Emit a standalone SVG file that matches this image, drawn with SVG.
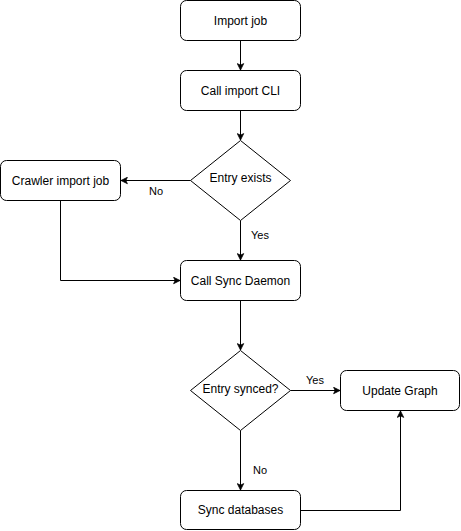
<svg xmlns="http://www.w3.org/2000/svg" width="461" height="531" viewBox="0 0 461 531">
<style>
.box{fill:#fff;stroke:#000;stroke-width:1}
.t{font-family:"Liberation Sans",Arial,sans-serif;font-size:12px;fill:#000;text-anchor:middle;dominant-baseline:central}
.lbl{font-family:"Liberation Sans",Arial,sans-serif;font-size:11px;fill:#000;text-anchor:middle;dominant-baseline:central}
.e{fill:none;stroke:#000;stroke-width:1;marker-end:url(#ah)}
</style>
<defs>
<marker id="ah" viewBox="0 0 10 10" refX="9" refY="5" markerWidth="8" markerHeight="8" markerUnits="userSpaceOnUse" orient="auto">
<path d="M1,1 L9,5 L1,9 L3,5 Z" fill="#000" stroke="#000" stroke-width="1"/>
</marker>
</defs>
<rect width="461" height="531" fill="#fff"/>
<g id="connectors">
<path class="e" d="M240.5,40.5 V70"/>
<path class="e" d="M240.5,110.5 V140"/>
<path class="e" d="M190.5,180.5 H121"/>
<path class="e" d="M240.5,220.5 V260"/>
<path class="e" d="M60.5,200.5 V280.5 H180"/>
<path class="e" d="M240.5,300.5 V350"/>
<path class="e" d="M290.5,390.5 H340"/>
<path class="e" d="M240.5,430.5 V490"/>
<path class="e" d="M300.5,510.5 H400.5 V411"/>
<text class="lbl" x="156" y="191">No</text>
<text class="lbl" x="260" y="235">Yes</text>
<text class="lbl" x="315" y="380">Yes</text>
<text class="lbl" x="260" y="470">No</text>
</g>
<g id="import-job"><rect class="box" x="180.5" y="0.5" width="120" height="40" rx="6"/><text class="t" x="240.5" y="20.5">Import job</text></g>
<g id="call-import-cli"><rect class="box" x="180.5" y="70.5" width="120" height="40" rx="6"/><text class="t" x="240.5" y="90.5">Call import CLI</text></g>
<g id="entry-exists"><path class="box" d="M240.5,140.5 L290.5,180.5 L240.5,220.5 L190.5,180.5 Z"/><text class="t" x="240.5" y="178">Entry exists</text></g>
<g id="crawler-import-job"><rect class="box" x="0.5" y="160.5" width="120" height="40" rx="6"/><text class="t" x="60.5" y="180.5">Crawler import job</text></g>
<g id="call-sync-daemon"><rect class="box" x="180.5" y="260.5" width="120" height="40" rx="6"/><text class="t" x="240.5" y="280.5">Call Sync Daemon</text></g>
<g id="entry-synced"><path class="box" d="M240.5,350.5 L290.5,390.5 L240.5,430.5 L190.5,390.5 Z"/><text class="t" x="240.5" y="388.5">Entry synced?</text></g>
<g id="update-graph"><rect class="box" x="340.5" y="370.5" width="119" height="40" rx="6"/><text class="t" x="400" y="390.5">Update Graph</text></g>
<g id="sync-databases"><rect class="box" x="180.5" y="490.5" width="120" height="39" rx="6"/><text class="t" x="240.5" y="510">Sync databases</text></g>
</svg>
